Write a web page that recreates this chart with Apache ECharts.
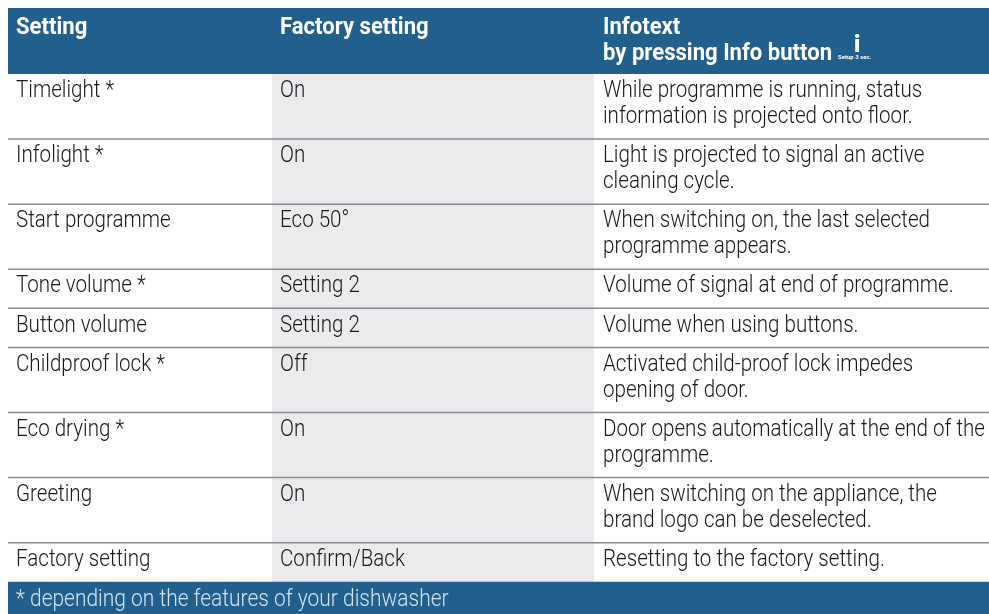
<!DOCTYPE html>
<html>
<head>
<meta charset="utf-8">
<style>html,body{margin:0;padding:0;background:#fff}#c{width:989px;height:614px}</style>
<script src="https://cdn.jsdelivr.net/npm/echarts@6/dist/echarts.min.js"></script>
</head>
<body>
<div id="c"></div>
<script>
const columnHeaders = ['Setting', 'Factory setting', 'Infotext\nby pressing Info button'];
const settings = ['Timelight *','Infolight *','Start programme','Tone volume *','Button volume','Childproof lock *','Eco drying *','Greeting','Factory setting'];
const factoryValues = ['On','On','Eco 50°','Setting 2','Setting 2','Off','On','On','Confirm/Back'];
const infotexts = [
  'While programme is running, status\ninformation is projected onto floor.',
  'Light is projected to signal an active\ncleaning cycle.',
  'When switching on, the last selected\nprogramme appears.',
  'Volume of signal at end of programme.',
  'Volume when using buttons.',
  'Activated child-proof lock impedes\nopening of door.',
  'Door opens automatically at the end of the\nprogramme.',
  'When switching on the appliance, the\nbrand logo can be deselected.',
  'Resetting to the factory setting.'
];
const footnote = '* depending on the features of your dishwasher';
const infoIconCaption = 'Setup 3 sec.';

// layout
const W = 989, H = 614;
const LEFT = 8, COL2 = 272, COL3 = 594;
const HEAD_TOP = 8, HEAD_BOTTOM = 74, LINE_H = 26.05, ROW_PAD = 13;
const BLUE = '#215f8c', GREY = '#ebebed', RULE = '#8a8a8e', INK = '#17181a';
const FAMILY = 'Roboto';
const SX = 0.84, SIZE = 24.5;

function text(api, x, y, str, opt) {
  opt = opt || {};
  const p = api.coord([x, y]);
  return {
    type: 'text', x: p[0], y: p[1], scaleX: opt.sx || SX, silent: true,
    style: {
      text: str, fill: opt.fill || INK, fontFamily: FAMILY,
      fontWeight: opt.weight || 300, fontSize: opt.size || SIZE,
      lineHeight: opt.lh || LINE_H, align: 'left', verticalAlign: 'top'
    }
  };
}
function rect(api, x0, y0, x1, y1, fill) {
  const a = api.coord([x0, y0]), b = api.coord([x1, y1]);
  return { type: 'rect', shape: { x: a[0], y: a[1], width: b[0] - a[0], height: b[1] - a[1] }, style: { fill } };
}

let cursorY = HEAD_BOTTOM;
const rowSpans = infotexts.map(t => {
  const lines = t.split('\n').length;
  const r = [cursorY, cursorY + ROW_PAD + LINE_H * lines];
  cursorY = r[1];
  return r;
});
const FOOT_TOP = cursorY;

const TEXT_DY = 4, TEXT_PAD = 8;

const option = {
  animation: false,
  backgroundColor: '#fff',
  grid: { left: 0, right: 0, top: 0, bottom: 0 },
  xAxis: { type: 'value', min: 0, max: W, show: false },
  yAxis: { type: 'value', min: 0, max: H, inverse: true, show: false },
  series: [
    {
      type: 'custom', coordinateSystem: 'cartesian2d', clip: false,
      data: rowSpans,
      encode: { y: [0, 1] },
      renderItem(params, api) {
        const i = params.dataIndex, y0 = api.value(0), y1 = api.value(1);
        const children = [rect(api, COL2, y0, COL3, y1, GREY)];
        if (i > 0) {
          const a = api.coord([LEFT, y0]), b = api.coord([W, y0]);
          children.push({ type: 'line', shape: { x1: a[0], y1: a[1], x2: b[0], y2: b[1] }, style: { stroke: RULE, lineWidth: 1.5 } });
        }
        const ty = y0 + TEXT_DY;
        children.push(text(api, LEFT + TEXT_PAD, ty, settings[i]));
        children.push(text(api, COL2 + TEXT_PAD, ty, factoryValues[i]));
        children.push(text(api, COL3 + TEXT_PAD + 1, ty, infotexts[i]));
        return { type: 'group', children };
      }
    },
    {
      type: 'custom', coordinateSystem: 'cartesian2d', clip: false,
      data: [[HEAD_TOP, HEAD_BOTTOM]],
      encode: { y: [0, 1] },
      renderItem(params, api) {
        const y0 = api.value(0), y1 = api.value(1);
        const o = { fill: '#fff', weight: 700, size: 24, sx: 0.92, lh: 26 };
        return { type: 'group', children: [
          rect(api, LEFT, y0, W, y1, BLUE),
          text(api, LEFT + TEXT_PAD, y0 + 6.5, columnHeaders[0], o),
          text(api, COL2 + TEXT_PAD, y0 + 6.5, columnHeaders[1], o),
          text(api, COL3 + TEXT_PAD + 1, y0 + 6.5, columnHeaders[2], o),
          text(api, 854, 34, 'i', { fill: '#fff', weight: 900, size: 23, sx: 1, lh: 24 }),
          text(api, 838, 54, infoIconCaption, { fill: '#fff', weight: 700, size: 6, sx: 1, lh: 7 })
        ]};
      }
    },
    {
      type: 'custom', coordinateSystem: 'cartesian2d', clip: false,
      data: [[FOOT_TOP, H]],
      encode: { y: [0, 1] },
      renderItem(params, api) {
        const y0 = api.value(0), y1 = api.value(1);
        return { type: 'group', children: [
          rect(api, LEFT, y0, W, y1, BLUE),
          text(api, LEFT + TEXT_PAD, y0 + 5.5, footnote, { fill: '#d6e3ee', sx: 0.855 })
        ]};
      }
    }
  ]
};
echarts.init(document.getElementById('c'), null, { renderer: 'canvas' }).setOption(option);
</script>
</body>
</html>
